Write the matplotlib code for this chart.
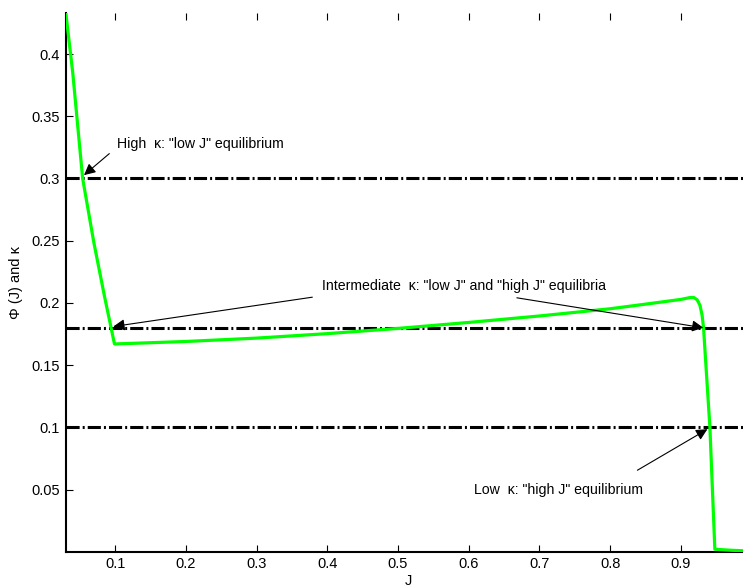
import matplotlib
matplotlib.use('Agg')
import matplotlib.pyplot as plt

plt.rcParams['font.family'] = ['Liberation Sans', 'DejaVu Sans']

# curva Phi(J)
J = [0.03, 0.04, 0.054, 0.07, 0.085, 0.099, 0.15, 0.2, 0.3, 0.4, 0.5, 0.6, 0.7,
     0.8, 0.85, 0.9, 0.912, 0.918, 0.923, 0.927, 0.930, 0.932, 0.941, 0.948,
     0.97, 1.0]
phi = [0.434, 0.385, 0.30, 0.248, 0.205, 0.167, 0.168, 0.169, 0.1717, 0.1753,
       0.1795, 0.1843, 0.1895, 0.1953, 0.199, 0.2028, 0.2042, 0.2044, 0.2025,
       0.198, 0.19, 0.18, 0.10, 0.002, 0.0012, 0.0005]

# niveles de kappa
kappas = [0.3, 0.18, 0.1]

fig = plt.figure(figsize=(7.43, 5.87), dpi=100)
ax = fig.add_axes([0.0884, 0.0601, 0.9232, 0.9177])

ax.plot(J, phi, color='#00ff00', lw=2.3, zorder=3)
for k in kappas:
    ln = ax.axhline(k, color='k', lw=2.2, zorder=2)
    ln.set_dashes((4.3, 1.0, 0.65, 1.0))

ax.set_xlim(0.03, 1.0)
ax.set_ylim(0, 0.433)
ax.set_xticks([0.1, 0.2, 0.3, 0.4, 0.5, 0.6, 0.7, 0.8, 0.9])
ax.set_xticklabels(['0.1', '0.2', '0.3', '0.4', '0.5', '0.6', '0.7', '0.8', '0.9'])
ax.set_yticks([0.05, 0.1, 0.15, 0.2, 0.25, 0.3, 0.35, 0.4])
ax.set_yticklabels(['0.05', '0.1', '0.15', '0.2', '0.25', '0.3', '0.35', '0.4'])
ax.tick_params(direction='in', length=5, width=0.8, labelsize=10.5,
               top=True, right=True)
ax.tick_params(axis='y', pad=4)
ax.tick_params(axis='x', pad=4)
ax.spines['top'].set_visible(False)
for s in ['left', 'bottom']:
    ax.spines[s].set_linewidth(1.5)

ax.set_xlabel('J', fontsize=10.5, labelpad=2)
ax.set_ylabel('\u03a6 (J) and \u03ba', fontsize=10.5, labelpad=6)

flecha = dict(arrowstyle='-|>', color='k', lw=0.8, mutation_scale=17,
              shrinkA=0, shrinkB=0)

ax.annotate('', xy=(0.0559, 0.3027), xytext=(0.0917, 0.320), arrowprops=flecha)
ax.text(0.1027, 0.3277, 'High  \u03ba: "low J" equilibrium', fontsize=10.2, va='center')

ax.annotate('', xy=(0.0973, 0.181), xytext=(0.3788, 0.2046), arrowprops=flecha)
ax.annotate('', xy=(0.9318, 0.180), xytext=(0.668, 0.2041), arrowprops=flecha)
ax.text(0.392, 0.2132, 'Intermediate  \u03ba: "low J" and "high J" equilibria',
        fontsize=10.2, va='center')

ax.annotate('', xy=(0.9375, 0.0985), xytext=(0.8385, 0.0655), arrowprops=flecha)
ax.text(0.608, 0.0494, 'Low  \u03ba: "high J" equilibrium', fontsize=10.2, va='center')

fig.savefig('out.png', dpi=100)
